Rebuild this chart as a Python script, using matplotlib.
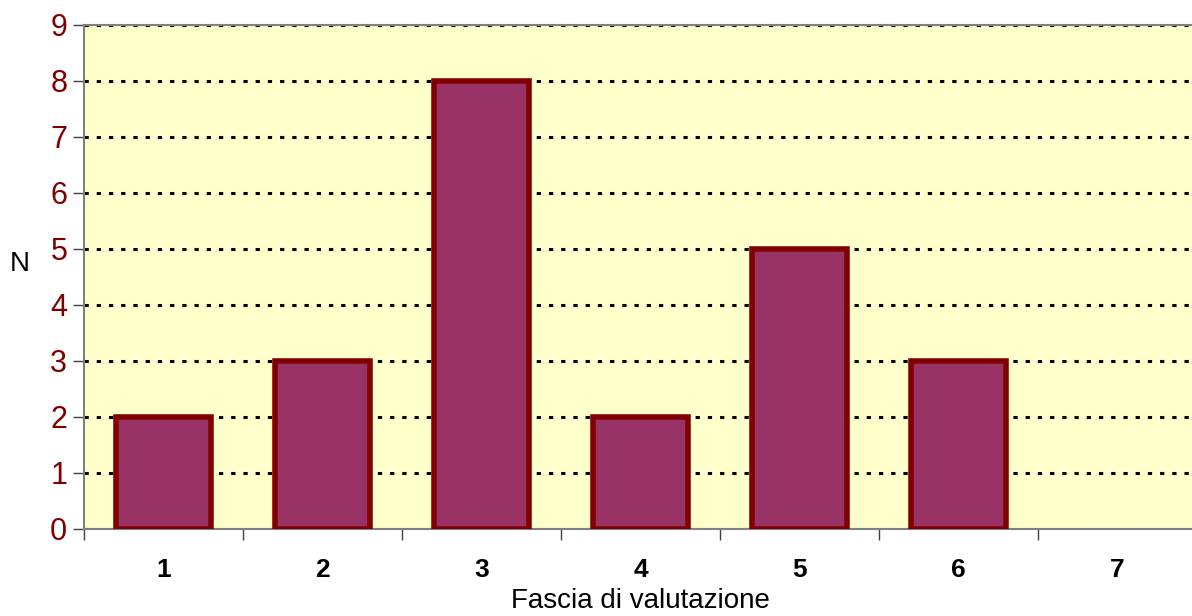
import matplotlib.pyplot as plt

plt.rcParams['font.family'] = ['Liberation Sans', 'DejaVu Sans']

categories = ["1", "2", "3", "4", "5", "6", "7"]
counts = [2, 3, 8, 2, 5, 3, 0]
y_ticks = list(range(0, 10))

fig = plt.figure(figsize=(11.92, 6.16), dpi=100)
ax = fig.add_axes([84 / 1192, 87 / 616, (1197 - 84) / 1192, (529 - 25) / 616])
ax.set_facecolor("#FFFFCC")

x = list(range(1, len(categories) + 1))
# empty categories get no outline
edge_w = [4.0 if c > 0 else 0 for c in counts]
ax.bar(x, counts, width=0.60, color="#993366", edgecolor="#800000", linewidth=edge_w, zorder=3)

ax.set_xlim(0.5, 7.5)
ax.set_ylim(0, 9)
ax.set_yticks(y_ticks)
ax.set_yticklabels([str(v) for v in y_ticks], color="#800000", fontsize=22)
ax.yaxis.grid(True, color="black", linestyle=(0, (1.4, 2.6)), linewidth=2.2, zorder=1)

# category labels centered, ticks at category boundaries
ax.set_xticks([v + 0.5 for v in [0] + x[:-1]])
ax.set_xticklabels([])
ax.set_xticks(x, minor=True)
ax.set_xticklabels(categories, minor=True, fontsize=19, fontweight="bold")
ax.tick_params(axis="x", which="minor", length=0, pad=21)
ax.tick_params(axis="x", which="major", length=8, width=1, color="#404040")
ax.tick_params(axis="y", length=8, width=1, color="#404040", pad=4)

for side in ["left", "bottom", "top"]:
    ax.spines[side].set_color("#808080")
    ax.spines[side].set_linewidth(1.5)
ax.spines["right"].set_visible(False)

ax.set_xlabel("Fascia di valutazione", fontsize=20, labelpad=4)
ax.set_ylabel("N", fontsize=20, rotation=0, va="center", ha="center")
ax.yaxis.set_label_coords(-0.058, 0.526)

fig.savefig("out.png", dpi=100)
